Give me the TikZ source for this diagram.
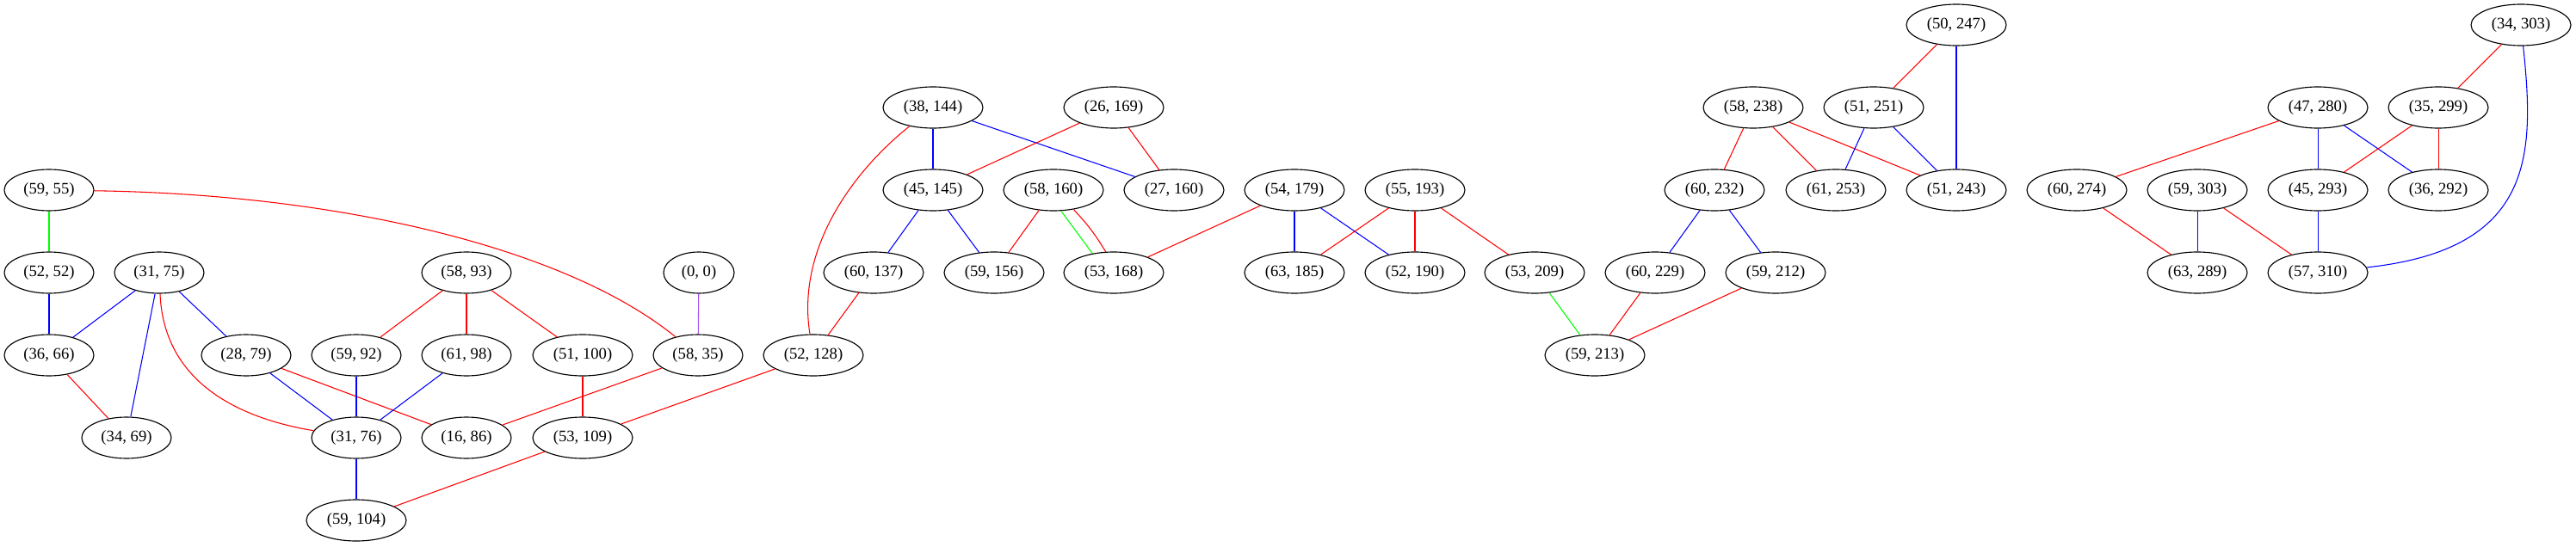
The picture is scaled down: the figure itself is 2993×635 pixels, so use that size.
\documentclass[tikz,border=0pt]{standalone}
\usepackage{fontspec}
\setmainfont{Liberation Serif}
\usetikzlibrary{shapes.geometric}
\definecolor{gvred}{RGB}{255,0,0}
\definecolor{gvblue}{RGB}{0,0,255}
\definecolor{gvgreen}{RGB}{0,255,0}
\definecolor{gvpurple}{RGB}{168,80,240}
\tikzset{
  nd/.style={ellipse, draw=black, line width=0.85pt, inner sep=0pt,
    minimum width=78pt, minimum height=36pt, font=\fontsize{14}{16}\selectfont},
  ndw/.style={nd, minimum width=87pt},
  nds/.style={nd, minimum width=61.5pt},
  er/.style={draw=gvred, line width=0.8pt},
  eb/.style={draw=gvblue, line width=0.8pt},
  eg/.style={draw=gvgreen, line width=0.8pt},
  ep/.style={draw=gvpurple, line width=0.8pt}
}
\begin{document}
\begin{tikzpicture}[x=0.75pt,y=-0.75pt]
\useasboundingbox (0,0) rectangle (2993,635);
% nodes
\node[nds] (n0x0) at (812,317) {(0, 0)};
\node[nd] (n59x55) at (57,221) {(59, 55)};
\node[nd] (n52x52) at (57,317) {(52, 52)};
\node[nd] (n31x75) at (185,317) {(31, 75)};
\node[nd] (n36x66) at (57,413) {(36, 66)};
\node[nd] (n28x79) at (286,413) {(28, 79)};
\node[nd] (n59x92) at (414,413) {(59, 92)};
\node[nd] (n34x69) at (147,509) {(34, 69)};
\node[nd] (n31x76) at (414,509) {(31, 76)};
\node[ndw] (n59x104) at (414,605) {(59, 104)};
\node[nd] (n58x93) at (542,317) {(58, 93)};
\node[nd] (n61x98) at (542,413) {(61, 98)};
\node[ndw] (n51x100) at (677,413) {(51, 100)};
\node[nd] (n58x35) at (811,413) {(58, 35)};
\node[ndw] (n52x128) at (945,413) {(52, 128)};
\node[nd] (n16x86) at (542,509) {(16, 86)};
\node[ndw] (n53x109) at (677,509) {(53, 109)};
\node[ndw] (n38x144) at (1084,125) {(38, 144)};
\node[ndw] (n26x169) at (1294,125) {(26, 169)};
\node[ndw] (n45x145) at (1084,221) {(45, 145)};
\node[ndw] (n58x160) at (1224,221) {(58, 160)};
\node[ndw] (n27x160) at (1364,221) {(27, 160)};
\node[ndw] (n54x179) at (1504,221) {(54, 179)};
\node[ndw] (n55x193) at (1644,221) {(55, 193)};
\node[ndw] (n60x137) at (1015,317) {(60, 137)};
\node[ndw] (n59x156) at (1155,317) {(59, 156)};
\node[ndw] (n53x168) at (1294,317) {(53, 168)};
\node[ndw] (n63x185) at (1504,317) {(63, 185)};
\node[ndw] (n52x190) at (1644,317) {(52, 190)};
\node[ndw] (n50x247) at (2273,29) {(50, 247)};
\node[ndw] (n58x238) at (2037,125) {(58, 238)};
\node[ndw] (n51x251) at (2177,125) {(51, 251)};
\node[ndw] (n60x232) at (1992,221) {(60, 232)};
\node[ndw] (n61x253) at (2133,221) {(61, 253)};
\node[ndw] (n51x243) at (2273,221) {(51, 243)};
\node[ndw] (n53x209) at (1783,317) {(53, 209)};
\node[ndw] (n60x229) at (1923,317) {(60, 229)};
\node[ndw] (n59x212) at (2063,317) {(59, 212)};
\node[ndw] (n59x213) at (1853,413) {(59, 213)};
\node[ndw] (n34x303) at (2929,29) {(34, 303)};
\node[ndw] (n47x280) at (2693,125) {(47, 280)};
\node[ndw] (n35x299) at (2833,125) {(35, 299)};
\node[ndw] (n60x274) at (2413,221) {(60, 274)};
\node[ndw] (n59x303) at (2553,221) {(59, 303)};
\node[ndw] (n45x293) at (2693,221) {(45, 293)};
\node[ndw] (n36x292) at (2833,221) {(36, 292)};
\node[ndw] (n63x289) at (2553,317) {(63, 289)};
\node[ndw] (n57x310) at (2693,317) {(57, 310)};
% edges, left part
\draw[eg] (n59x55) -- (n52x52);
\draw[er] (n59x55) .. controls (400,226) and (660,290) .. (n58x35);
\draw[eb] (n52x52) -- (n36x66);
\draw[eb] (n31x75) -- (n36x66);
\draw[eb] (n31x75) -- (n34x69);
\draw[eb] (n31x75) -- (n28x79);
\draw[er] (n31x75) .. controls (190,440) and (270,485) .. (n31x76);
\draw[er] (n36x66) -- (n34x69);
\draw[eb] (n28x79) -- (n31x76);
\draw[er] (n28x79) -- (n16x86);
\draw[eb] (n59x92) -- (n31x76);
\draw[eb] (n61x98) -- (n31x76);
\draw[eb] (n31x76) -- (n59x104);
\draw[er] (n58x93) -- (n59x92);
\draw[er] (n58x93) -- (n61x98);
\draw[er] (n58x93) -- (n51x100);
\draw[er] (n53x109) -- (n59x104);
\draw[ep] (n0x0) -- (n58x35);
\draw[er] (n51x100) -- (n53x109);
\draw[er] (n58x35) -- (n16x86);
\draw[er] (n52x128) -- (n53x109);
\draw[er] (n38x144) .. controls (990,200) and (925,290) .. (n52x128);
\draw[er] (n60x137) -- (n52x128);
% middle part
\draw[eb] (n38x144) -- (n45x145);
\draw[eb] (n38x144) -- (n27x160);
\draw[er] (n26x169) -- (n45x145);
\draw[er] (n26x169) -- (n27x160);
\draw[eb] (n45x145) -- (n60x137);
\draw[eb] (n45x145) -- (n59x156);
\draw[er] (n58x160) -- (n59x156);
\draw[eg] (n58x160.-70) -- (n53x168.138);
\draw[er] (n58x160.-44) to[bend left=6] (n53x168.111);
\draw[er] (n54x179) -- (n53x168);
\draw[eb] (n54x179) -- (n63x185);
\draw[eb] (n54x179) -- (n52x190);
\draw[er] (n55x193) -- (n63x185);
\draw[er] (n55x193) -- (n52x190);
\draw[er] (n55x193) -- (n53x209);
% right-middle part
\draw[er] (n50x247) -- (n51x251);
\draw[eb] (n50x247) -- (n51x243);
\draw[er] (n58x238) -- (n60x232);
\draw[er] (n58x238) -- (n61x253);
\draw[er] (n58x238) -- (n51x243);
\draw[eb] (n51x251) -- (n61x253);
\draw[eb] (n51x251) -- (n51x243);
\draw[eb] (n60x232) -- (n60x229);
\draw[eb] (n60x232) -- (n59x212);
\draw[eg] (n53x209) -- (n59x213);
\draw[er] (n60x229) -- (n59x213);
\draw[er] (n59x212) -- (n59x213);
% right part
\draw[er] (n34x303) -- (n35x299);
\draw[eb] (n34x303) .. controls (2945,180) and (2945,290) .. (n57x310);
\draw[er] (n47x280) -- (n60x274);
\draw[eb] (n47x280) -- (n45x293);
\draw[eb] (n47x280) -- (n36x292);
\draw[er] (n35x299) -- (n45x293);
\draw[er] (n35x299) -- (n36x292);
\draw[er] (n60x274) -- (n63x289);
\draw[eb] (n59x303) -- (n63x289);
\draw[er] (n59x303) -- (n57x310);
\draw[eb] (n45x293) -- (n57x310);
\end{tikzpicture}
\end{document}
